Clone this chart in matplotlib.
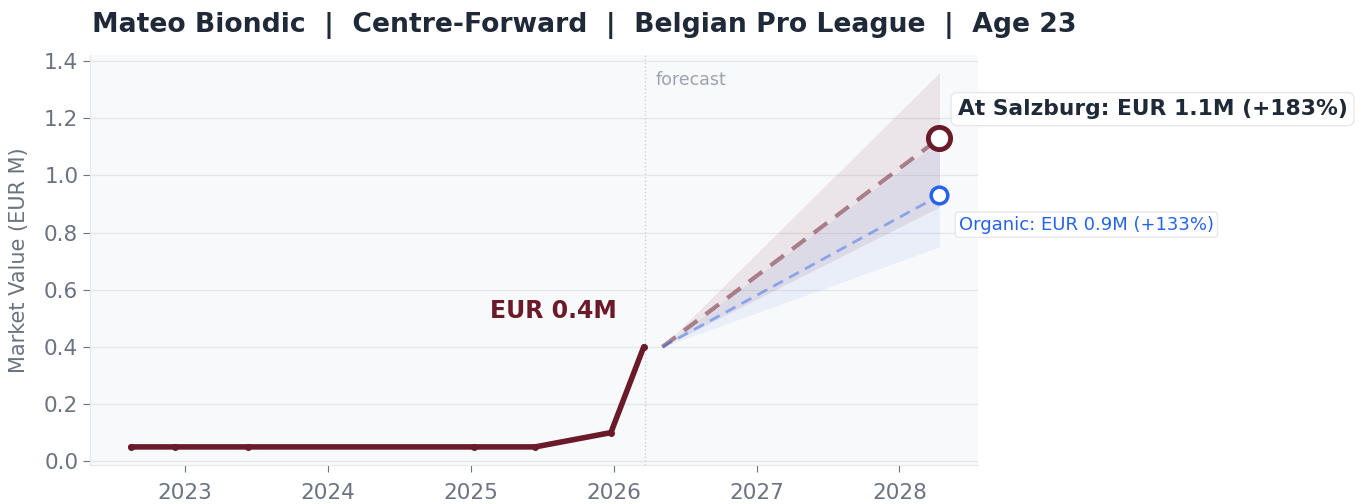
import matplotlib.pyplot as plt

# history (decimal year, EUR M)
hist_dates = [2022.62, 2022.93, 2023.44, 2025.02, 2025.45, 2025.98, 2026.21]
hist_values = [0.05, 0.05, 0.05, 0.05, 0.05, 0.10, 0.40]

# forecast
fc_dates = [2026.34, 2028.28]
salzburg_mid = [0.40, 1.13]
salzburg_low = [0.40, 0.89]
salzburg_high = [0.40, 1.36]
organic_mid = [0.40, 0.93]
organic_low = [0.40, 0.75]
organic_high = [0.40, 1.12]

forecast_start = 2026.22
year_ticks = [2023, 2024, 2025, 2026, 2027, 2028]

MAROON = "#6b1a2a"
BLUE = "#2563eb"
GRAY = "#6b7280"
NAVY = "#1f2937"

fig, ax = plt.subplots(figsize=(13.66, 5.04), dpi=100)
fig.subplots_adjust(left=0.066, right=0.716, top=0.89, bottom=0.077)
ax.set_facecolor("#f8f9fb")

ax.fill_between(fc_dates, salzburg_low, salzburg_high, color=MAROON, alpha=0.09, lw=0)
ax.fill_between(fc_dates, organic_low, organic_high, color=BLUE, alpha=0.07, lw=0)
ax.plot(fc_dates, salzburg_mid, color=MAROON, alpha=0.5, lw=3, ls=(0, (4, 2.5)))
ax.plot(fc_dates, organic_mid, color=BLUE, alpha=0.45, lw=2, ls=(0, (4, 2.5)))

ax.plot(hist_dates, hist_values, color=MAROON, lw=4, marker="o", ms=4,
        solid_capstyle="round", zorder=4)

ax.plot(fc_dates[-1], salzburg_mid[-1], "o", ms=16, mfc="white", mec=MAROON, mew=3.5, zorder=5)
ax.plot(fc_dates[-1], organic_mid[-1], "o", ms=12, mfc="white", mec=BLUE, mew=2.5, zorder=5)

ax.axvline(forecast_start, color="#cbd0d8", lw=1, ls=":")
ax.text(forecast_start + 0.07, 1.333, "forecast", color="#9ca3af", fontsize=12.5, va="center")

ax.annotate(f"EUR {hist_values[-1]:.1f}M", (hist_dates[-1], hist_values[-1]),
            xytext=(-65, 25.5), textcoords="offset points", ha="center", va="center",
            fontsize=17, fontweight="bold", color=MAROON)

ax.annotate("At Salzburg: EUR 1.1M (+183%)", (fc_dates[-1], salzburg_mid[-1]),
            xytext=(13, 21), textcoords="offset points", ha="left", va="center",
            fontsize=15.7, fontweight="bold", color=NAVY,
            bbox=dict(boxstyle="round,pad=0.3", fc="white", ec="#e5e7eb", lw=1))
ax.annotate("Organic: EUR 0.9M (+133%)", (fc_dates[-1], organic_mid[-1]),
            xytext=(14, -21), textcoords="offset points", ha="left", va="center",
            fontsize=13, color=BLUE,
            bbox=dict(boxstyle="round,pad=0.2", fc="white", ec="#e5e7eb", lw=1))

ax.set_xlim(2022.335, 2028.55)
ax.set_ylim(-0.014, 1.42)
ax.set_xticks(year_ticks)
ax.set_xticklabels([str(y) for y in year_ticks])
ax.set_yticks([0.0, 0.2, 0.4, 0.6, 0.8, 1.0, 1.2, 1.4])
ax.tick_params(colors=GRAY, labelsize=15.5, length=5)
ax.tick_params(axis="x", pad=8)
ax.set_ylabel("Market Value (EUR M)", color=GRAY, fontsize=15, labelpad=11)
ax.grid(axis="y", color="#e5e7eb", lw=1)
ax.set_axisbelow(True)
for side in ["top", "right"]:
    ax.spines[side].set_visible(False)
for side in ["left", "bottom"]:
    ax.spines[side].set_color("#e5e7eb")

fig.text(0.067, 0.95, "Mateo Biondic  |  Centre-Forward  |  Belgian Pro League  |  Age 23",
         fontsize=19.2, fontweight="bold", color=NAVY, va="center")

fig.savefig("out.png")
plt.close(fig)
